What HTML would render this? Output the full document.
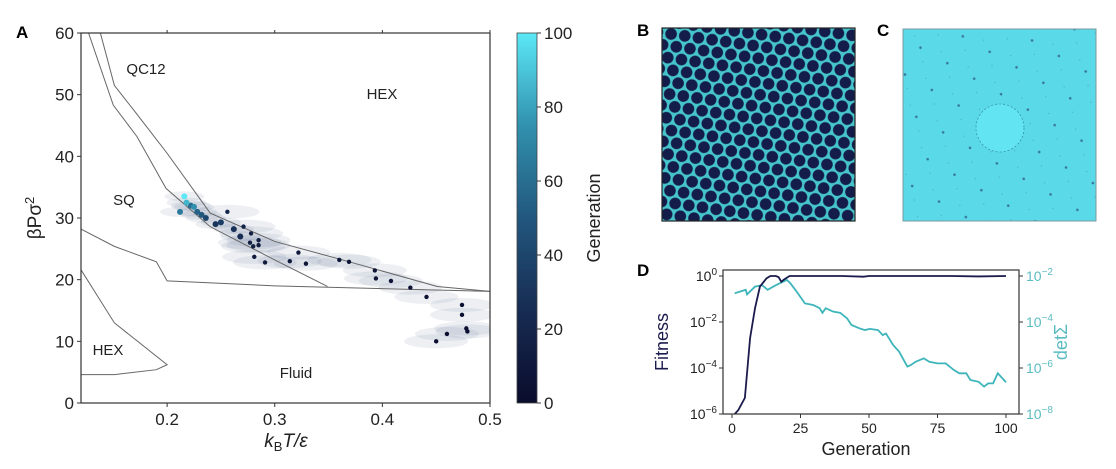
<!DOCTYPE html>
<html><head><meta charset="utf-8"><style>
body{margin:0;background:#fff;width:1116px;height:469px;overflow:hidden}
svg{display:block;font-family:"Liberation Sans",sans-serif}
</style></head><body>
<svg id="fig" width="1116" height="469">
<defs>
 <linearGradient id="cmap" x1="0" y1="1" x2="0" y2="0">
  <stop offset="0" stop-color="#0a0c2c"/><stop offset="0.25" stop-color="#172c52"/>
  <stop offset="0.5" stop-color="#22577e"/><stop offset="0.75" stop-color="#3191ae"/>
  <stop offset="1" stop-color="#5ce8f6"/></linearGradient>
 <pattern id="hexpat" width="13.8" height="23.9" patternUnits="userSpaceOnUse" patternTransform="rotate(8)">
  <rect width="13.8" height="23.9" fill="#46c4cc"/>
  <circle cx="0" cy="0" r="5.8" fill="#141d4a"/><circle cx="13.8" cy="0" r="5.8" fill="#141d4a"/>
  <circle cx="0" cy="23.9" r="5.8" fill="#141d4a"/><circle cx="13.8" cy="23.9" r="5.8" fill="#141d4a"/>
  <circle cx="6.9" cy="11.95" r="5.8" fill="#141d4a"/></pattern>
 <pattern id="specks" width="31" height="31" patternUnits="userSpaceOnUse" patternTransform="rotate(30)">
  <rect width="31" height="31" fill="#5ad9e9"/>
  <circle cx="15" cy="15" r="1.3" fill="#2a4a7a" opacity="0.7"/>
  <circle cx="4" cy="8" r="0.7" fill="#3a7fa0" opacity="0.4"/>
  <circle cx="24" cy="26" r="0.7" fill="#3a7fa0" opacity="0.4"/></pattern>
</defs>
<g id="panelA"></g>
<g id="panelD"></g>
<g>
 <text x="637" y="36" font-size="17" font-weight="bold">B</text>
 <rect x="662" y="28" width="193" height="193" fill="url(#hexpat)" stroke="#222" stroke-width="1.2"/>
</g>
<g>
 <text x="877" y="36" font-size="17" font-weight="bold">C</text>
 <rect x="903" y="29" width="193" height="192" fill="url(#specks)" stroke="#7a9aa0" stroke-width="1"/>
 <circle cx="1000" cy="128" r="24" fill="#62e4f2" stroke="#3a8fb0" stroke-width="0.8" stroke-dasharray="2 2"/>
</g>
</svg>
<script>
// ---------- Panel A data ----------
const ptX=[0.256,0.271,0.278,0.285,0.285,0.280,0.277,0.291,0.281,0.314,0.322,0.329,0.360,0.369,0.393,0.394,0.408,0.426,0.441,0.474,0.474,0.478,0.479,0.460,0.450,0.245,0.236,0.228,0.222,0.212,0.216,0.218,0.225,0.232,0.250,0.262,0.268];
const ptY=[31.0,28.6,27.5,26.4,25.6,25.4,26.0,22.8,23.7,23.0,24.4,22.6,23.2,22.9,21.5,20.2,19.8,18.7,17.2,15.9,14.3,12.1,11.6,11.2,10.0,29.0,30.0,31.0,32.0,31.0,33.5,32.5,31.8,30.5,29.3,28.2,27.0];
const ptGen=[20,18,16,15,14,14,15,10,12,10,9,8,8,7,6,6,5,5,4,3,3,2,2,1,1,30,40,55,60,65,100,85,75,50,35,28,25];
const lineOuterX=[0.138,0.151,0.169,0.2,0.24,0.30,0.363,0.451,0.5];
const lineOuterY=[60,51.5,47.5,40.5,30.8,26.2,23.2,18.9,18.1];
const lineInnerX=[0.127,0.15,0.172,0.199,0.24,0.30,0.349];
const lineInnerY=[60,48.3,43.2,34.8,28.6,23.2,18.9];
const lineFluidX=[0.12,0.151,0.19,0.2,0.3,0.5];
const lineFluidY=[28.2,25.4,22.9,19.8,19.0,18.1];
const lineHexX=[0.12,0.151,0.2,0.19,0.151,0.12];
const lineHexY=[21.6,13,6.2,5.4,4.6,4.6];
const xTicksA=[0.2,0.3,0.4,0.5], yTicksA=[0,10,20,30,40,50,60], cbTicks=[0,20,40,60,80,100];
// ---------- Panel D data ----------
const fitGen=[1,2.3,4.7,6.6,8.4,10.2,12.6,14,16,17,18,19,21,30,40,48,50,60,70,80,90,100];
const fitLog=[-6,-5.83,-5.3,-2.7,-1.4,-0.46,-0.1,0,0,-0.05,-0.25,-0.15,0,0,0,-0.03,0,0,0,0,-0.02,0];
const detGen=[1,2.9,5,5.5,8.4,11,13,16,20,21.2,23.6,26.6,29.6,32,33,34.2,37,39.5,42,43.6,46.6,48.5,50.3,53.3,55,56.2,58.8,61,64,65.3,67,70,72,75,78,81,83,85.5,87,90,92,93.5,95.3,97,100];
const detLog=[-2.75,-2.68,-2.6,-2.8,-2.46,-2.4,-2.6,-2.4,-2.17,-2.3,-2.68,-3.19,-3.26,-3.4,-3.6,-3.4,-3.55,-3.6,-3.84,-4.13,-4.28,-4.35,-4.3,-4.35,-4.57,-4.5,-5.0,-5.29,-5.94,-5.87,-5.73,-5.58,-5.73,-5.8,-5.8,-6.09,-6.23,-6.23,-6.52,-6.6,-6.81,-6.67,-6.67,-6.23,-6.62];
const xTicksD=[0,25,50,75,100], fitTicks=[0,-2,-4,-6], detTicks=[-2,-4,-6,-8];

const NS="http://www.w3.org/2000/svg";
function mk(parent,tag,attrs,txt){const e=document.createElementNS(NS,tag);for(const k in attrs)e.setAttribute(k,attrs[k]);if(txt!==undefined)e.textContent=txt;parent.appendChild(e);return e;}
function genColor(g){const st=[[0,[10,12,44]],[25,[23,44,82]],[50,[34,87,126]],[75,[49,145,174]],[100,[92,232,246]]];
 for(let i=1;i<st.length;i++){if(g<=st[i][0]){const a=st[i-1],b=st[i],t=(g-a[0])/(b[0]-a[0]);return 'rgb('+a[1].map((v,j)=>Math.round(v+(b[1][j]-v)*t)).join(',')+')';}}return 'rgb(92,232,246)';}

// ---------- Panel A ----------
const A=document.getElementById('panelA');
const ax0=81,ax1=490,ay0=33,ay1=403;
const sxA=v=>ax0+(v-0.12)/(0.5-0.12)*(ax1-ax0);
const syA=v=>ay1-v/60*(ay1-ay0);
mk(A,'clipPath',{id:'clipA'}).appendChild(document.createElementNS(NS,'rect'));
const cr=A.querySelector('#clipA rect');cr.setAttribute('x',ax0);cr.setAttribute('y',ay0);cr.setAttribute('width',ax1-ax0);cr.setAttribute('height',ay1-ay0);
const gE=mk(A,'g',{'clip-path':'url(#clipA)'});


for(let i=0;i<ptX.length;i++){
 const e=mk(gE,'ellipse',{cx:sxA(ptX[i]),cy:syA(ptY[i]),rx:ptGen[i]<25?32:20,ry:ptGen[i]<25?7:5,fill:'#6a7a9e','fill-opacity':0.12});
 
 
}
function poly(xs,ys,name){const p=mk(A,'polyline',{points:xs.map((x,i)=>sxA(x)+','+syA(ys[i])).join(' '),fill:'none',stroke:'#666',"stroke-width":1,'clip-path':'url(#clipA)'});
 
 }
poly(lineOuterX,lineOuterY,'hex-qc12-boundary');
poly(lineInnerX,lineInnerY,'sq-qc12-boundary');
poly(lineFluidX,lineFluidY,'fluid-boundary');
poly(lineHexX,lineHexY,'low-hex-boundary');
const order=ptGen.map((g,i)=>i).sort((a,b)=>ptGen[a]-ptGen[b]);
for(const i of order){
 const c=mk(A,'circle',{cx:sxA(ptX[i]),cy:syA(ptY[i]),r:ptGen[i]>=25?3:2.2,fill:genColor(ptGen[i])});
 
 
}
const fr=mk(A,'rect',{x:ax0,y:ay0,width:ax1-ax0,height:ay1-ay0,fill:'none',stroke:'#333',"stroke-width":1.2});


for(const t of xTicksA){mk(A,'line',{x1:sxA(t),x2:sxA(t),y1:ay1,y2:ay1+4,stroke:'#333'});mk(A,'line',{x1:sxA(t),x2:sxA(t),y1:ay0,y2:ay0-3,stroke:'#333'});
 const l=mk(A,'text',{x:sxA(t),y:ay1+22,'font-size':17,'text-anchor':'middle',fill:'#222'},String(t));
 
 }
for(const t of yTicksA){mk(A,'line',{x1:ax0-4,x2:ax0,y1:syA(t),y2:syA(t),stroke:'#333'});
 const l=mk(A,'text',{x:ax0-7,y:syA(t)+6,'font-size':17,'text-anchor':'end',fill:'#222'},String(t));
 
 }
[['QC12',146,74],['HEX',382,99],['SQ',124,205],['HEX',108,355],['Fluid',296,378]].forEach(([s,x,y])=>{
 const l=mk(A,'text',{x:x,y:y,'font-size':15,'text-anchor':'middle',fill:'#222'},s);
 
 });
let t=mk(A,'text',{x:16,y:38,'font-size':17,'font-weight':'bold'},'A');
t=mk(A,'text',{x:0,y:0,'font-size':19,'text-anchor':'middle',transform:'translate(41,218) rotate(-90)',fill:'#222'});
t.innerHTML='βPσ<tspan dy="-7" font-size="13">2</tspan>';

t=mk(A,'text',{x:286,y:447,'font-size':19,'text-anchor':'middle',fill:'#222','font-style':'italic'});
t.innerHTML='k<tspan font-size="13" dy="4" font-style="normal">B</tspan><tspan dy="-4">T/ε</tspan>';

// colorbar
const cb=mk(A,'rect',{x:517,y:33,width:20,height:370,fill:'url(#cmap)',stroke:'#444','stroke-width':0.8});

for(const v of cbTicks){const y=403-v/100*370;mk(A,'line',{x1:537,x2:541,y1:y,y2:y,stroke:'#333'});
 const l=mk(A,'text',{x:544,y:y+6,'font-size':17,fill:'#222'},String(v));
 }
t=mk(A,'text',{x:0,y:0,'font-size':18,'text-anchor':'middle',transform:'translate(600,218) rotate(-90)',fill:'#222'},'Generation');


// ---------- Panel D ----------
const D=document.getElementById('panelD');
const dx0=723,dx1=1019,dy0=270,dy1=414;
const sxD=g=>732+g/100*(1006-732);
const syF=v=>dy1-(v+6)/6*(dy1-276);
const syDet=v=>dy1-(v+8)/6*(dy1-276);
let l=mk(D,'polyline',{points:detGen.map((g,i)=>sxD(g)+','+syDet(detLog[i])).join(' '),fill:'none',stroke:'#3db5ba','stroke-width':1.8});

l=mk(D,'polyline',{points:fitGen.map((g,i)=>sxD(g)+','+syF(fitLog[i])).join(' '),fill:'none',stroke:'#1b1b4d','stroke-width':1.8});

const fd=mk(D,'rect',{x:dx0,y:dy0,width:dx1-dx0,height:dy1-dy0,fill:'none',stroke:'#333','stroke-width':1.2});

for(const g of xTicksD){mk(D,'line',{x1:sxD(g),x2:sxD(g),y1:dy1,y2:dy1+4,stroke:'#333'});
 const e=mk(D,'text',{x:sxD(g),y:dy1+19,'font-size':14,'text-anchor':'middle',fill:'#222'},String(g));
 }
for(const v of fitTicks){const y=syF(v);mk(D,'line',{x1:dx0-4,x2:dx0,y1:y,y2:y,stroke:'#333'});
 const e=mk(D,'text',{x:dx0-6,y:y+5,'font-size':14,'text-anchor':'end',fill:'#222'});
 e.innerHTML='10<tspan dy="-6" font-size="10">'+(v===0?'0':'−'+(-v))+'</tspan>';
 }
for(const v of detTicks){const y=syDet(v);mk(D,'line',{x1:dx1,x2:dx1+4,y1:y,y2:y,stroke:'#333'});
 const e=mk(D,'text',{x:dx1+7,y:y+5,'font-size':14,fill:'#5bbcc0'});
 e.innerHTML='10<tspan dy="-6" font-size="10">−'+(-v)+'</tspan>';
 }
t=mk(D,'text',{x:866,y:455,'font-size':18,'text-anchor':'middle',fill:'#222'},'Generation');

t=mk(D,'text',{x:0,y:0,'font-size':18,'text-anchor':'middle',transform:'translate(668,342) rotate(-90)',fill:'#1b1b4d'},'Fitness');

t=mk(D,'text',{x:0,y:0,'font-size':18,'text-anchor':'middle',transform:'translate(1067,342) rotate(-90)',fill:'#5bbcc0'},'detΣ');

t=mk(D,'text',{x:637,y:276,'font-size':17,'font-weight':'bold'},'D');

</script>
</body></html>
